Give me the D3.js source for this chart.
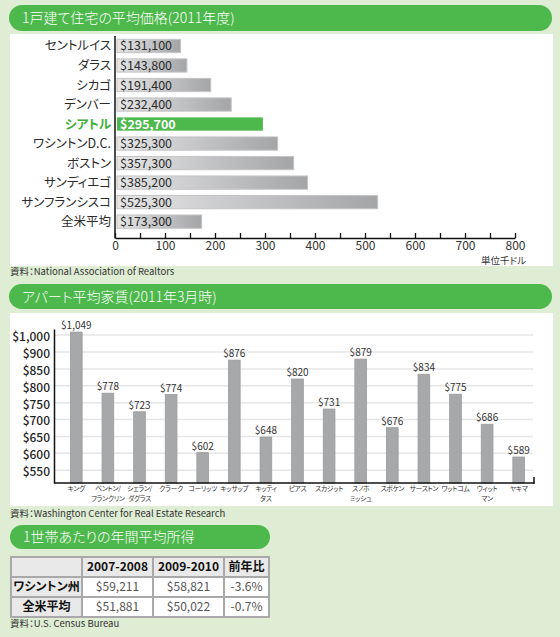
<!DOCTYPE html>
<html><head><meta charset="utf-8">
<script src="https://cdn.jsdelivr.net/npm/d3@7"></script>
<style>
body{margin:0;background:#deedd4;}
svg{display:block;font-family:"Noto Sans CJK JP","Noto Sans",sans-serif;font-feature-settings:"palt";}
</style></head><body>
<svg id="c" width="560" height="637"></svg>
<script>
// ---------- data ----------
const titles = ["1戸建て住宅の平均価格(2011年度)", "アパート平均家賃(2011年3月時)", "1世帯あたりの年間平均所得"];
const houseCities = ["セントルイス","ダラス","シカゴ","デンバー","シアトル","ワシントンD.C.","ボストン","サンディエゴ","サンフランシスコ","全米平均"];
const housePrices = [131.1,143.8,191.4,232.4,295.7,325.3,357.3,385.2,525.3,173.3]; // thousand $
const highlightCity = "シアトル";
const houseTicks = [0,100,200,300,400,500,600,700,800];
const houseUnit = "単位千ドル";
const houseSource = "資料：National Association of Realtors";

const rentCounties = ["キング","ベントン/\nフランクリン","シェラン/\nダグラス","クラーク","コーリッツ","キッサップ","キッティ\nタス","ピアス","スカジット","スノホ\nミッシュ","スポケン","サーストン","ワットコム","ウィット\nマン","ヤキマ"];
const rentValues = [1049,778,723,774,602,876,648,820,731,879,676,834,775,686,589];
const rentTicks = [550,600,650,700,750,800,850,900,1000];
const rentSource = "資料：Washington Center for Real Estate Research";

const incomeColumns = ["2007-2008","2009-2010","前年比"];
const incomeRows = ["ワシントン州","全米平均"];
const income0708 = [59211,51881];
const income0910 = [58821,50022];
const incomeChange = [-3.6,-0.7];
const incomeSource = "資料：U.S. Census Bureau";

// ---------- drawing ----------
const svg = d3.select("#c");
const green = "#4db84b", dark = "#2b2b2b";
const defs = svg.append("defs");
const grad = defs.append("linearGradient").attr("id","barGrad");
grad.append("stop").attr("offset","0%").attr("stop-color","#e6e6e7");
grad.append("stop").attr("offset","100%").attr("stop-color","#a4a5a7");

function header(x,y,w,h,text){
  svg.append("rect").attr("x",x).attr("y",y).attr("width",w).attr("height",h)
    .attr("rx",h/2).attr("fill",green);
  svg.append("text").attr("x",x+13).attr("y",y+h/2).attr("dy","0.36em")
    .attr("fill","#fff").attr("font-size",14).attr("font-weight",300).text(text);
}
function source(x,y,text){
  svg.append("text").attr("x",x).attr("y",y).attr("dy","0.35em")
    .attr("font-size",9.5).attr("fill","#333").text(text);
}

// Section 1
header(9,5,543,26,titles[0]);
svg.append("rect").attr("x",10).attr("y",34).attr("width",543).attr("height",232).attr("fill","#fff");

const x1 = d3.scaleLinear().domain([0,800]).range([115,515]);
const y1 = d3.scaleBand().domain(houseCities).range([36.2,231.4]).paddingInner(0.32).paddingOuter(0.16);
const fmt$ = d3.format("$,");

const g1 = svg.append("g");
g1.selectAll("rect.bar").data(houseCities).join("rect")
  .attr("x",x1(0)+2).attr("y",d=>y1(d))
  .attr("width",(d,i)=>x1(housePrices[i])-x1(0)-2).attr("height",y1.bandwidth())
  .attr("fill",d=>d===highlightCity?green:"url(#barGrad)")
  .attr("stroke",d=>d===highlightCity?"none":"#c4c4c5").attr("stroke-width",1);
g1.selectAll("text.val").data(houseCities).join("text")
  .attr("x",x1(0)+5).attr("y",d=>y1(d)+y1.bandwidth()/2).attr("dy","0.36em")
  .attr("font-size",12.5)
  .attr("font-weight",d=>d===highlightCity?"bold":"normal")
  .attr("fill",d=>d===highlightCity?"#fff":dark)
  .text((d,i)=>fmt$(Math.round(housePrices[i]*1000)));
g1.selectAll("text.cat").data(houseCities).join("text")
  .attr("x",111).attr("y",d=>y1(d)+y1.bandwidth()/2).attr("dy","0.36em")
  .attr("text-anchor","end").attr("font-size",12.5)
  .attr("font-weight",d=>d===highlightCity?"bold":"normal")
  .attr("fill",d=>d===highlightCity?"#3fae3b":dark).text(d=>d);
// y axis line
g1.append("line").attr("x1",x1(0)).attr("x2",x1(0)).attr("y1",36).attr("y2",238.5)
  .attr("stroke","#111").attr("stroke-width",1.5);
const ax1 = g1.append("g").attr("transform","translate(0,238)")
  .call(d3.axisBottom(x1).tickValues(d3.range(0,801,50)).tickSizeInner(-5).tickSizeOuter(0).tickPadding(3)
    .tickFormat(d=>houseTicks.includes(d)?d:""));
ax1.select(".domain").attr("stroke","#111").attr("stroke-width",1.5);
ax1.selectAll(".tick line").attr("stroke","#111").attr("stroke-width",1.3);
ax1.selectAll(".tick text").attr("font-size",12).attr("fill","#333")
  .attr("font-family","'Noto Sans CJK JP','Noto Sans',sans-serif");
svg.append("text").attr("x",526).attr("y",260.5).attr("dy","0.35em").attr("text-anchor","end")
  .attr("font-size",9.5).attr("fill","#333").text(houseUnit);
source(10,272,houseSource);

// Section 2
header(9,284,543,25,titles[1]);
svg.append("rect").attr("x",10).attr("y",313).attr("width",543).attr("height",193).attr("fill","#fff");

const x2 = d3.scaleBand().domain(rentCounties).range([60.5,534.5]).paddingInner(0.63).paddingOuter(0.315);
const y2 = d3.scaleLinear().domain([512,900,1000,1100]).range([483,352,335,329]);
const g2 = svg.append("g");
g2.selectAll("line.grid").data(rentTicks).join("line")
  .attr("x1",55).attr("x2",533).attr("y1",d=>y2(d)).attr("y2",d=>y2(d))
  .attr("stroke","#e6e6e6").attr("stroke-width",1.5);
g2.selectAll("rect.bar").data(rentCounties).join("rect")
  .attr("x",d=>x2(d)).attr("width",x2.bandwidth())
  .attr("y",(d,i)=>y2(rentValues[i])).attr("height",(d,i)=>y2(512)-y2(rentValues[i]))
  .attr("fill","#a7a8aa").attr("stroke","#9a9b9d").attr("stroke-width",0.8);
g2.selectAll("text.val").data(rentCounties).join("text")
  .attr("x",d=>x2(d)+x2.bandwidth()/2).attr("y",(d,i)=>y2(rentValues[i])-3)
  .attr("text-anchor","middle").attr("font-size",10).attr("fill","#333")
  .text((d,i)=>fmt$(rentValues[i]));
g2.selectAll("text.cat").data(rentCounties).join("text")
  .attr("x",d=>x2(d)+x2.bandwidth()/2).attr("y",489).attr("text-anchor","middle")
  .attr("font-size",6.8).attr("letter-spacing",-0.3).attr("fill","#333")
  .each(function(d){
    const t=d3.select(this);
    d.split("\n").forEach((s,k)=>t.append("tspan").attr("x",x2(d)+x2.bandwidth()/2).attr("dy",k===0?"0.35em":"1.45em").text(s));
  });
const ax2 = g2.append("g").attr("transform","translate(54,0)")
  .call(d3.axisLeft(y2).tickValues(rentTicks).tickSize(0).tickPadding(4).tickFormat(d=>fmt$(d)));
ax2.select(".domain").attr("stroke","#111").attr("stroke-width",1.5);
ax2.selectAll(".tick text").attr("font-size",12).attr("font-weight",500).attr("fill","#222").attr("dy","0.45em")
  .attr("font-family","'Noto Sans CJK JP','Noto Sans',sans-serif");
g2.append("line").attr("x1",54).attr("x2",534.5).attr("y1",483).attr("y2",483).attr("stroke","#111").attr("stroke-width",1.5);
g2.append("line").attr("x1",534).attr("x2",534).attr("y1",477).attr("y2",483.7).attr("stroke","#111").attr("stroke-width",1.5);
source(10,514,rentSource);

// Section 3
header(10,525,260,24,titles[2]);
const colX = [11,82,153,224,269];
const rowY = [557,577,597,617];
const tbl = svg.append("g");
const cells = [];
const header3 = [""].concat(incomeColumns);
header3.forEach((t,c)=>cells.push({r:0,c,t,bg:"#e9e9e9",bold:true}));
incomeRows.forEach((name,r)=>{
  cells.push({r:r+1,c:0,t:name,bg:"#e9e9e9",bold:true});
  cells.push({r:r+1,c:1,t:fmt$(income0708[r]),bg:"#fff"});
  cells.push({r:r+1,c:2,t:fmt$(income0910[r]),bg:"#fff"});
  cells.push({r:r+1,c:3,t:incomeChange[r].toFixed(1)+"%",bg:"#fff"});
});
tbl.selectAll("rect").data(cells).join("rect")
  .attr("x",d=>colX[d.c]).attr("y",d=>rowY[d.r])
  .attr("width",d=>colX[d.c+1]-colX[d.c]).attr("height",d=>rowY[d.r+1]-rowY[d.r])
  .attr("fill",d=>d.bg).attr("stroke","#a9a9a9").attr("stroke-width",2);
tbl.selectAll("text").data(cells).join("text")
  .attr("x",d=>(colX[d.c]+colX[d.c+1])/2).attr("y",d=>(rowY[d.r]+rowY[d.r+1])/2).attr("dy","0.36em")
  .attr("text-anchor","middle").attr("font-size",12)
  .attr("font-weight",d=>d.bold?"bold":"normal")
  .attr("fill",d=>d.bold?"#111":"#555").text(d=>d.t);
source(10,624,incomeSource);
</script>
</body></html>
